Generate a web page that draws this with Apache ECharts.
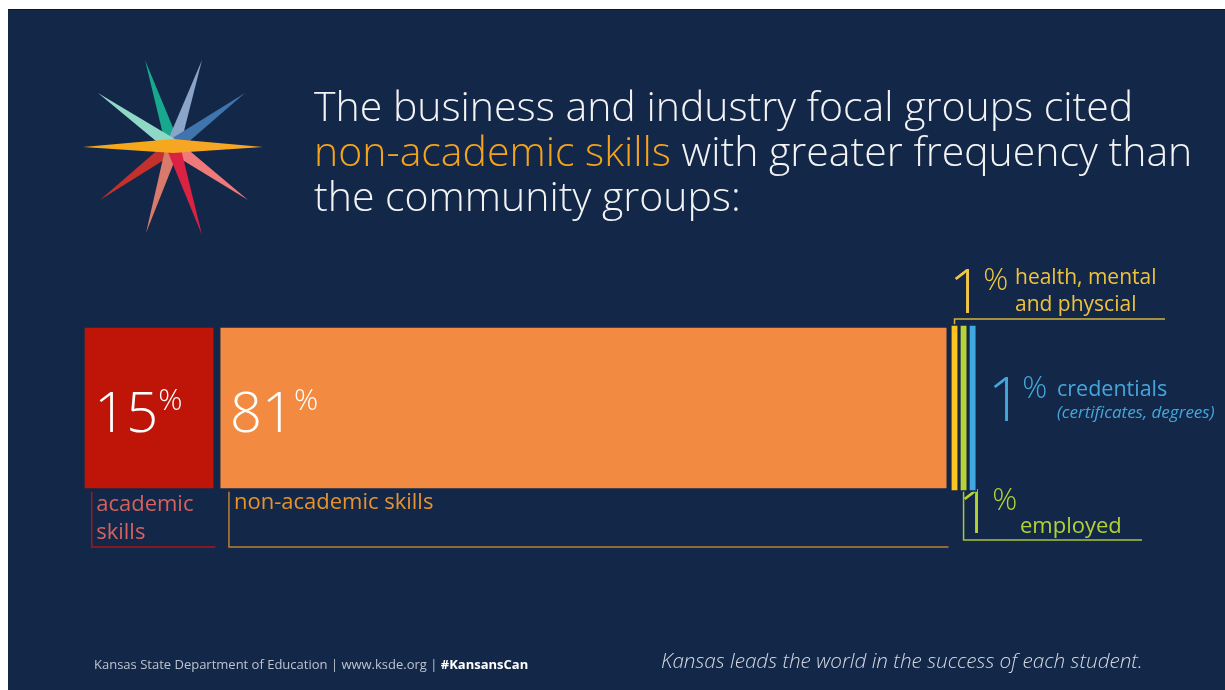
<!DOCTYPE html>
<html><head><meta charset="utf-8">
<script src="https://cdn.jsdelivr.net/npm/echarts@6/dist/echarts.min.js"></script>
<style>
html,body{margin:0;padding:0;background:#fff;width:1225px;height:690px;overflow:hidden}
#bg{position:absolute;left:8px;top:9px;width:1217px;height:681px;background:#132849;border-top:1px solid #0b172c;box-sizing:border-box}
#chart{position:absolute;left:0;top:0;width:1225px;height:690px}
</style></head><body><div id="bg"></div><div id="chart"></div>
<script>
// ---- data ----
const categories = ['academic skills', 'non-academic skills', 'health, mental and physcial', 'credentials', 'employed'];
const values = [15, 81, 1, 1, 1];
const titleLine1 = 'The business and industry focal groups cited';
const titleHighlight = 'non-academic skills';
const titleLine2rest = ' with greater frequency than';
const titleLine3 = 'the community groups:';
const footerLeft = 'Kansas State Department of Education | www.ksde.org | ';
const footerTag = '#KansansCan';
const footerRight = 'Kansas leads the world in the success of each student.';
const healthLines = ['health, mental', 'and physcial'];
const credLines = ['credentials', '(certificates, degrees)'];
const employedLabel = 'employed';
const academicLines = ['academic', 'skills'];
const nonAcademicLabel = 'non-academic skills';

// ---- style ----
const BG = '#132849';
const FONT = 'Open Sans';
const barColors = ['#bf1408', '#f28b41', '#fdc321', '#b6d335', '#40a9e1'];
const PX_PER_UNIT = 9.05;
const GRID = {left: 81.2, top: 324.2, height: 167.6};
GRID.width = PX_PER_UNIT * values.reduce((a, b) => a + b, 0);

const chart = echarts.init(document.getElementById('chart'), null, {renderer: 'canvas'});

const series = values.map((v, i) => ({
  name: categories[i],
  type: 'bar',
  stack: 'total',
  barWidth: '100%',
  data: [v],
  itemStyle: {color: barColors[i], borderColor: BG, borderWidth: i < 2 ? 3.5 : 1.6},
  emphasis: {disabled: true},
  label: {
    show: i < 2,
    position: 'insideLeft',
    distance: 13,
    offset: [0, 8],
    formatter: p => '{n|' + p.value + '}{p|%}',
    rich: {
      n: {fontSize: 56, fontFamily: FONT, fontWeight: 300, color: '#ffffff', lineHeight: 60},
      p: {fontSize: 30, fontFamily: FONT, fontWeight: 300, color: '#ffffff', verticalAlign: 'top', lineHeight: 30}
    }
  }
}));

chart.setOption({
  backgroundColor: 'transparent',
  animation: false,
  grid: {left: GRID.left, top: GRID.top, width: GRID.width, height: GRID.height},
  xAxis: {type: 'value', min: 0, max: values.reduce((a, b) => a + b, 0), show: false},
  yAxis: {type: 'category', data: ['share'], show: false},
  series: series
});

// ---- annotations anchored to scale ----
function px(v) { return chart.convertToPixel({xAxisIndex: 0}, v); }
const cum = [];
values.reduce((a, v, i) => { cum[i] = a; return a + v; }, 0);
const barTop = GRID.top + 1.5, barBottom = GRID.top + GRID.height - 1.5;

function textEl(x, y, text, style) {
  return {type: 'text', x: x, y: y, silent: true, style: Object.assign({text: text, fontFamily: FONT, verticalAlign: 'middle', align: 'left'}, style)};
}
function bigNum(x, y, color) {
  return {type: 'text', x: x, y: y, silent: true, style: {
    text: '{n|1}{p|%}', verticalAlign: 'middle', align: 'left',
    rich: {
      n: {fontSize: 60, fontFamily: FONT, fontWeight: 300, fill: color, lineHeight: 60},
      p: {fontSize: 31, fontFamily: FONT, fontWeight: 300, fill: color, verticalAlign: 'top', lineHeight: 31}
    }}};
}
function line(points, color) {
  return {type: 'polyline', silent: true, shape: {points: points}, style: {stroke: color, lineWidth: 1.5, fill: null}};
}

// star
const starC = [173, 146];
const spikes = [
  [[145, 60], '#17a88e'], [[202, 60], '#8aa5c9'], [[245, 93], '#3f74ad'],
  [[98, 93], '#8fd8c8'], [[100, 200], '#c4302b'], [[146, 233], '#d97b6c'],
  [[248, 200], '#f07a7a'], [[202, 235], '#dc2243'], [[83, 147], '#f5a81c'], [[263, 147], '#f6a623']
];
const starEls = spikes.map(([t, c]) => {
  const dx = t[0] - starC[0], dy = t[1] - starC[1];
  const L = Math.hypot(dx, dy), ux = dx / L, uy = dy / L, w = 7;
  return {type: 'polygon', silent: true, shape: {points: [
    t, [starC[0] - uy * w, starC[1] + ux * w], [starC[0] - ux * 3, starC[1] - uy * 3], [starC[0] + uy * w, starC[1] - ux * w]
  ]}, style: {fill: c}};
});

const xRed0 = px(cum[0]), xRed1 = px(cum[0] + values[0]);
const xOr0 = px(cum[1]), xOr1 = px(cum[1] + values[1]);
const xYc = px(cum[2] + values[2] / 2), xGc = px(cum[3] + values[3] / 2);

const els = [].concat(starEls, [
  {type: 'text', x: 314, y: 87, silent: true, style: {
    text: '{w|' + titleLine1 + '}\n{o|' + titleHighlight + '}{w|' + titleLine2rest + '}\n{w|' + titleLine3 + '}',
    rich: {
      w: {fill: '#f3f3f3', fontSize: 41, fontFamily: FONT, fontWeight: 300, lineHeight: 45},
      o: {fill: '#f5a31c', fontSize: 41, fontFamily: FONT, fontWeight: 300, lineHeight: 45}
    }}},
  // left brackets
  line([[xRed0 + 10.5, barBottom], [xRed0 + 10.5, 547], [xRed1 - 1.5, 547]], '#a8141a'),
  line([[xOr0 + 12, barBottom], [xOr0 + 12, 547], [xOr1 - 1.5, 547]], '#b98033'),
  textEl(xRed0 + 15, 505, academicLines[0], {fill: '#d4625f', fontSize: 22}),
  textEl(xRed0 + 15, 533, academicLines[1], {fill: '#d4625f', fontSize: 22}),
  textEl(xOr0 + 17, 503, nonAcademicLabel, {fill: '#e8922c', fontSize: 22}),
  // yellow
  line([[xYc, barTop], [xYc, 319], [1165, 319]], '#d4b43a'),
  bigNum(949, 296, '#f3c744'),
  textEl(1015, 278, healthLines[0], {fill: '#f0c23c', fontSize: 21}),
  textEl(1015, 305, healthLines[1], {fill: '#f0c23c', fontSize: 21}),
  // blue
  bigNum(988, 404, '#45a6dc'),
  textEl(1057, 390, credLines[0], {fill: '#45a6dc', fontSize: 21.5}),
  textEl(1057, 413, credLines[1], {fill: '#45a6dc', fontSize: 17, fontStyle: 'italic'}),
  // green
  line([[xGc, barBottom], [xGc, 540], [1142, 540]], '#a8c43a'),
  bigNum(958, 516, '#b3d234'),
  textEl(1020, 527, employedLabel, {fill: '#b3d234', fontSize: 22}),
  // footer
  {type: 'text', x: 94, y: 665, silent: true, style: {
    text: '{a|' + footerLeft + '}{b|' + footerTag + '}', verticalAlign: 'middle',
    rich: {
      a: {fill: '#bcc3cf', fontSize: 13, fontFamily: FONT},
      b: {fill: '#ffffff', fontSize: 13, fontFamily: FONT, fontWeight: 'bold'}
    }}},
  textEl(661, 662, footerRight, {fill: '#d4d8e0', fontSize: 20.7, fontStyle: 'italic', fontWeight: 300})
]);

chart.setOption({graphic: {elements: els}});
</script></body></html>
